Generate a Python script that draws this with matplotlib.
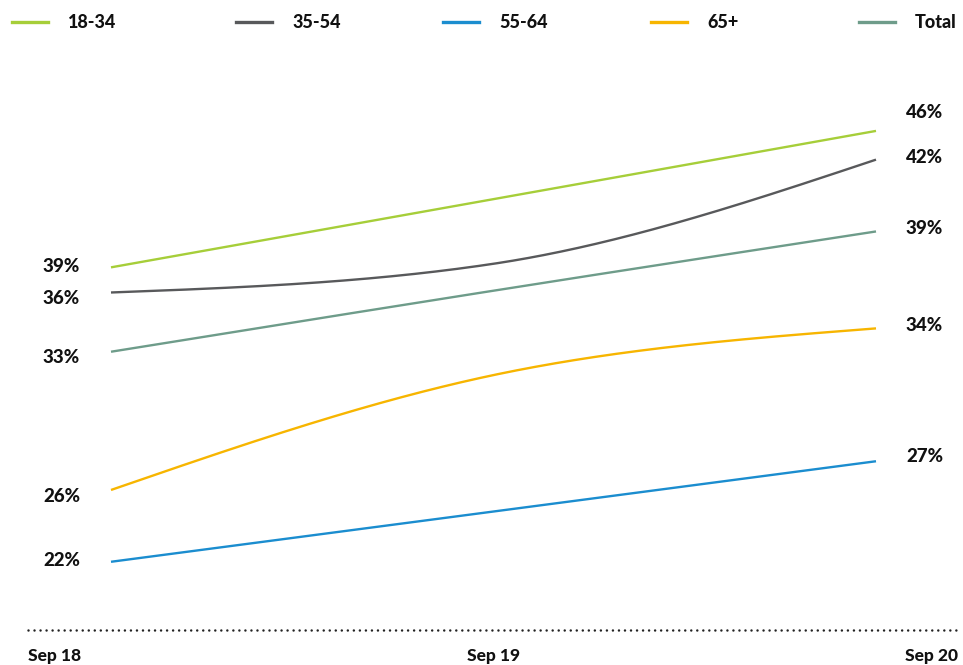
import numpy as np
import matplotlib
matplotlib.use("Agg")
import matplotlib.pyplot as plt
from matplotlib.lines import Line2D

# ---------------- data ----------------
periods = ["Sep 18", "Sep 19", "Sep 20"]
series_names = ["18-34", "35-54", "55-64", "65+", "Total"]
values_18_34 = [38.4, 42.2, 46.0]
values_35_54 = [37.0, 38.6, 44.4]
values_55_64 = [22.0, 24.8, 27.6]
values_65 = [26.0, 32.4, 35.0]
values_total = [33.7, 37.1, 40.4]
start_labels = ["39%", "36%", "22%", "26%", "33%"]
end_labels = ["46%", "42%", "27%", "34%", "39%"]

# ---------------- style ----------------
colors = ["#A6CE39", "#58595B", "#1B8DCF", "#F7B500", "#6E9C8A"]
start_dy = [-1, 6.5, -1.5, 6.5, 6]      # label offsets in pixels (down +)
end_dy = [-18, -2, -4.5, -3, -3]
FONT = "Lato"
WEIGHT = "black"

W, H = 963, 665
fig = plt.figure(figsize=(W / 100, H / 100), dpi=100)

# axes layout in pixels
ax_l, ax_r, ax_t, ax_b = 28, 958, 60, 630
ax = fig.add_axes([ax_l / W, 1 - ax_b / H, (ax_r - ax_l) / W, (ax_b - ax_t) / H])

x_first_px, x_last_px = 111, 876
ppu = (x_last_px - x_first_px) / (len(periods) - 1)
xlo = -(x_first_px - ax_l) / ppu
xhi = (len(periods) - 1) + (ax_r - x_last_px) / ppu
ax.set_xlim(xlo, xhi)
ax.set_ylim(18.2, 49.95)


def monotone(xs, ys, n=200):
    xs = np.asarray(xs, float)
    ys = np.asarray(ys, float)
    h = np.diff(xs)
    s = np.diff(ys) / h
    m = np.zeros_like(ys)
    for i in range(1, len(ys) - 1):
        if s[i - 1] * s[i] <= 0:
            m[i] = 0
        else:
            p = (s[i - 1] * h[i] + s[i] * h[i - 1]) / (h[i - 1] + h[i])
            m[i] = (np.sign(s[i - 1]) + np.sign(s[i])) * min(abs(s[i - 1]), abs(s[i]), 0.5 * abs(p))
    m[0] = (3 * s[0] - m[1]) / 2
    m[-1] = (3 * s[-1] - m[-2]) / 2
    X, Y = [], []
    for i in range(len(h)):
        t = np.linspace(0, 1, n)
        h00 = 2 * t**3 - 3 * t**2 + 1
        h10 = t**3 - 2 * t**2 + t
        h01 = -2 * t**3 + 3 * t**2
        h11 = t**3 - t**2
        X.append(xs[i] + t * h[i])
        Y.append(h00 * ys[i] + h10 * h[i] * m[i] + h01 * ys[i + 1] + h11 * h[i] * m[i + 1])
    return np.concatenate(X), np.concatenate(Y)


all_values = [values_18_34, values_35_54, values_55_64, values_65, values_total]
xs = np.arange(len(periods))
for name, vals, c, sl, el, sdy, edy in zip(series_names, all_values, colors,
                                            start_labels, end_labels, start_dy, end_dy):
    X, Y = monotone(xs, vals)
    ax.plot(X, Y, color=c, lw=1.7, solid_capstyle="butt")
    ax.annotate(sl, (xs[0], vals[0]), xytext=(-31, -sdy), textcoords="offset pixels",
                ha="right", va="center", fontsize=13.5, fontweight=WEIGHT,
                family=FONT, color="#111111")
    ax.annotate(el, (xs[-1], vals[-1]), xytext=(30, -edy), textcoords="offset pixels",
                ha="left", va="center", fontsize=13.5, fontweight=WEIGHT,
                family=FONT, color="#111111")

# axes styling
for sp in ["top", "left", "right"]:
    ax.spines[sp].set_visible(False)
bottom = ax.spines["bottom"]
bottom.set_linestyle((0, (0.01, 2.4)))
bottom.set_linewidth(1.8)
bottom.set_capstyle("round")
bottom.set_color("#222222")
ax.set_yticks([])
ax.set_xticks([xlo, 1, xhi])
ax.set_xticklabels(periods, fontsize=12.5, fontweight=WEIGHT, family=FONT, color="#111111")
ax.tick_params(axis="x", length=0, pad=13)
tl = ax.get_xticklabels()
tl[0].set_ha("left")
tl[-1].set_ha("right")

# legend (manual, evenly spaced)
leg_x = [12, 236, 443, 651, 859]
leg_y = 1 - 22 / H
for lx, name, c in zip(leg_x, series_names, colors):
    fig.add_artist(Line2D([lx / W, (lx + 36) / W], [leg_y, leg_y], color=c, lw=2.4))
    fig.text((lx + 56) / W, leg_y, name, ha="left", va="center", fontsize=13,
             fontweight=WEIGHT, family=FONT, color="#111111")

fig.savefig("out.png", dpi=100)
